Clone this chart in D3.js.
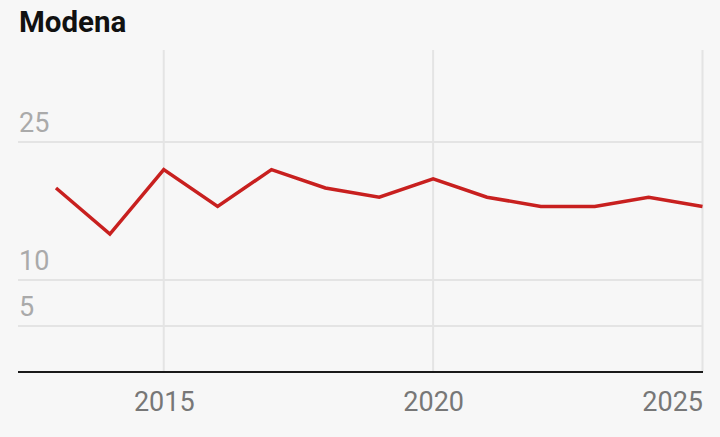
<!DOCTYPE html>
<html><head><meta charset="utf-8">
<script src="https://cdn.jsdelivr.net/npm/d3@7"></script>
<style>
html,body{margin:0;padding:0;background:#f7f7f7;}
svg{display:block;font-family:Roboto,"Noto Sans",sans-serif;}
</style></head>
<body><svg id="c" width="720" height="437"></svg>
<script>
const title = "Modena";
const years = [2013,2014,2015,2016,2017,2018,2019,2020,2021,2022,2023,2024,2025];
const values = [20,15,22,18,22,20,19,21,19,18,18,19,18];
const yTicks = [5,10,25];
const xTicks = [2015,2020,2025];

(function(){
const svg = d3.select("#c");
const mLeft = 18, mRight = 703, mTop = 50, mBottom = 372;
const x = d3.scaleLinear().domain([2013,2025]).range([56,702.5]);
const y = d3.scaleLinear().domain([0,35]).range([mBottom, mTop]);

svg.append("rect").attr("width",720).attr("height",437).attr("fill","#f7f7f7");

svg.append("text").attr("x",19).attr("y",32).text(title)
  .attr("font-size",29.5).attr("font-weight",700).attr("fill","#111");

// horizontal grid
const gy = svg.append("g");
gy.selectAll("line").data(yTicks).join("line")
  .attr("x1",mLeft).attr("x2",mRight)
  .attr("y1",d=>y(d)).attr("y2",d=>y(d))
  .attr("stroke","#e4e4e4").attr("stroke-width",2);
gy.selectAll("text").data(yTicks).join("text")
  .attr("x",19).attr("y",d=>y(d)-10).text(d=>d)
  .attr("font-size",27).attr("fill","#aaaaaa");

// vertical grid
svg.append("g").selectAll("line").data(xTicks).join("line")
  .attr("x1",d=>x(d)).attr("x2",d=>x(d))
  .attr("y1",mTop).attr("y2",mBottom)
  .attr("stroke","#e4e4e4").attr("stroke-width",2);

// x axis
const xa = svg.append("g").attr("transform",`translate(0,${mBottom})`)
  .call(d3.axisBottom(x).tickValues(xTicks).tickFormat(d3.format("d")).tickSize(0).tickPadding(20));
xa.select(".domain").remove();
xa.selectAll("text").attr("font-size",27).attr("fill","#777")
  .attr("font-family","Roboto,'Noto Sans',sans-serif")
  .attr("text-anchor",(d,i)=> i===xTicks.length-1 ? "end" : "middle");
svg.append("line").attr("x1",mLeft).attr("x2",mRight).attr("y1",mBottom).attr("y2",mBottom)
  .attr("stroke","#1a1a1a").attr("stroke-width",2);

// line
const line = d3.line().x((d,i)=>x(years[i])).y(d=>y(d));
svg.append("path").datum(values).attr("d",line)
  .attr("fill","none").attr("stroke","#c8201f").attr("stroke-width",3.5)
  .attr("stroke-linejoin","miter");
})();
</script></body></html>
